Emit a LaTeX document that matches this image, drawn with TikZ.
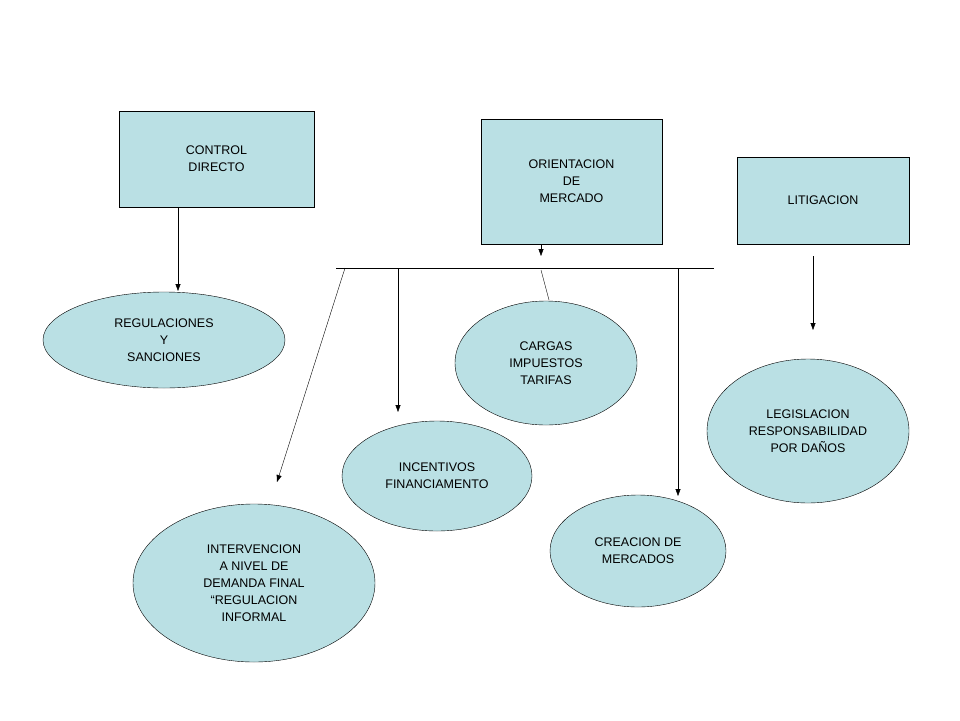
\documentclass[tikz,border=0pt]{standalone}
\usepackage{fontspec}
\setmainfont{Liberation Sans}
\usetikzlibrary{shapes.geometric,arrows.meta}
\definecolor{boxc}{RGB}{186,224,228}
\begin{document}
\begin{tikzpicture}[x=1pt,y=-1pt,
  txt/.style={align=center,font=\fontsize{12.5}{17}\selectfont},
  rbox/.style={draw,fill=boxc,txt,minimum width=#1},
  ell/.style={draw,fill=boxc,ellipse,txt,inner sep=0pt},
  arr/.style={-{Triangle[length=7pt,width=5pt]}}]
\useasboundingbox (0,0) rectangle (960,720);
\node[rbox=195,minimum height=96] (cd) at (216.5,159) {CONTROL\\DIRECTO};
\node[rbox=181,minimum height=125] (om) at (571.5,181.5) {ORIENTACION\\DE\\MERCADO};
\node[rbox=172,minimum height=87] (li) at (823,200.5) {LITIGACION};
\node[ell,minimum width=242,minimum height=96] (rs) at (164,340) {REGULACIONES\\Y\\SANCIONES};
\node[ell,minimum width=182,minimum height=124] (ca) at (546,363) {CARGAS\\IMPUESTOS\\TARIFAS};
\node[ell,minimum width=202,minimum height=144] (le) at (808,431) {LEGISLACION\\RESPONSABILIDAD\\POR DAÑOS};
\node[ell,minimum width=190,minimum height=110] (in) at (437,476) {INCENTIVOS\\FINANCIAMENTO};
\node[ell,minimum width=176,minimum height=112] (cm) at (638,551) {CREACION DE\\MERCADOS};
\node[ell,minimum width=242,minimum height=158] (iv) at (254,583) {INTERVENCION\\A NIVEL DE\\DEMANDA FINAL\\``REGULACION\\INFORMAL};
\coordinate (b1) at (336,268); \coordinate (b2) at (714,268);
\coordinate (p1) at (345,268); \coordinate (p2) at (398,268);
\coordinate (p3) at (541,270); \coordinate (p4) at (678,268);
\draw (b1) -- (b2);
\draw[arr] (cd.south -| 178,0) ++(0,1) -- (178,291);
\draw[arr] (541,245) -- (541,256);
\draw[arr] (p1) -- (277,482);
\draw[arr] (p2) -- (398,412);
\draw (p3) -- (549,300);
\draw[arr] (p4) -- (678,496);
\draw[arr] (813,256) -- (813,330);
\end{tikzpicture}
\end{document}
